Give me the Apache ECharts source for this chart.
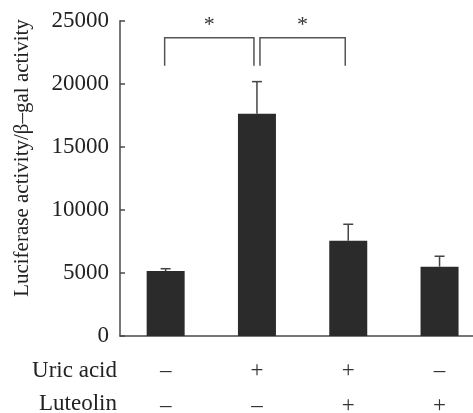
<!DOCTYPE html>
<html>
<head>
<meta charset="utf-8">
<script src="https://cdn.jsdelivr.net/npm/echarts@6/dist/echarts.min.js"></script>
<style>html,body{margin:0;padding:0;background:#fff}#c{width:473px;height:413px}</style>
</head>
<body>
<div id="c"></div>
<script>
// ---- data ----
const uricAcid = ['–', '+', '+', '–'];
const luteolin = ['–', '–', '+', '+'];
const categories = ['g1', 'g2', 'g3', 'g4'];
const means = [5150, 17630, 7560, 5500];
const errors = [185, 2540, 1300, 825];
const yTicks = [0, 5000, 10000, 15000, 20000, 25000];
const brackets = [[0, 1], [1, 2]];
const bracketTop = 23650;
const bracketLeg = 21420;
const starLevel = 24900;
const rowLabels = ['Uric acid', 'Luteolin'];
const yTitle = 'Luciferase activity/β–gal activity';

const FONT = 'Liberation Serif, Times New Roman, serif';
const AX = '#4a4a4a';

const chart = echarts.init(document.getElementById('c'), null, {renderer: 'canvas'});
chart.setOption({
  animation: false,
  backgroundColor: '#fff',
  grid: {left: 120, width: 365.2, top: 20.7, bottom: 77, containLabel: false, outerBoundsMode: 'none'},
  xAxis: {
    type: 'category',
    data: categories,
    axisLine: {lineStyle: {color: AX, width: 1.5}},
    axisTick: {inside: true, length: 8, alignWithLabel: false, lineStyle: {color: AX, width: 1.5}},
    axisLabel: {
      margin: 17,
      fontFamily: FONT, fontSize: 23, color: '#333', lineHeight: 35,
      formatter: (v, i) => uricAcid[i] + '\n' + luteolin[i]
    }
  },
  yAxis: {
    type: 'value',
    min: yTicks[0], max: yTicks[yTicks.length - 1], interval: 5000,
    axisLine: {show: true, lineStyle: {color: AX, width: 1.5}},
    axisTick: {show: true, inside: true, length: 5, lineStyle: {color: AX, width: 1.5}},
    splitLine: {show: false},
    axisLabel: {margin: 11, fontFamily: FONT, fontSize: 23, color: '#222', formatter: v => String(v)}
  },
  graphic: [
    {type: 'text', x: 22, y: 158, rotation: Math.PI / 2,
     style: {text: yTitle, font: '21px ' + FONT, fill: '#222', textAlign: 'center', textVerticalAlign: 'middle'}},
    {type: 'text', x: 117, y: 382,
     style: {text: rowLabels[0], font: '23px ' + FONT, fill: '#222', textAlign: 'right', textVerticalAlign: 'bottom'}},
    {type: 'text', x: 117, y: 415,
     style: {text: rowLabels[1], font: '23px ' + FONT, fill: '#222', textAlign: 'right', textVerticalAlign: 'bottom'}}
  ],
  series: [
    {
      type: 'bar', data: means, barWidth: 38,
      itemStyle: {color: '#2b2b2b'}, z: 2
    },
    {
      type: 'custom', z: 3,
      data: means.map((m, i) => [i, m, errors[i]]),
      renderItem: (params, api) => {
        const i = api.value(0), m = api.value(1), e = api.value(2);
        const base = api.coord([i, m]);
        const top = api.coord([i, m + e]);
        const st = {stroke: '#444', lineWidth: 1.5};
        return {type: 'group', children: [
          {type: 'line', shape: {x1: base[0], y1: base[1], x2: top[0], y2: top[1]}, style: st},
          {type: 'line', shape: {x1: top[0] - 5, y1: top[1], x2: top[0] + 5, y2: top[1]}, style: st}
        ]};
      }
    },
    {
      type: 'custom', z: 3,
      data: brackets,
      encode: {x: 0},
      renderItem: (params, api) => {
        const a = api.value(0), b = api.value(1);
        const shared = brackets.some(br => br[1] === a);
        const pa = api.coord([a, bracketTop]);
        const pb = api.coord([b, bracketTop]);
        const leg = api.coord([a, bracketLeg])[1];
        const star = api.coord([a, starLevel])[1];
        const x1 = pa[0] + (shared ? 3 : -1);
        const x2 = pb[0] - 3;
        const y = pa[1];
        const st = {stroke: '#555', lineWidth: 1.5, fill: null};
        return {type: 'group', children: [
          {type: 'polyline', shape: {points: [[x1, leg], [x1, y], [x2, y], [x2, leg]]}, style: st},
          {type: 'text', x: (x1 + x2) / 2, y: star + 3,
           style: {text: '*', font: '22px ' + FONT, fill: '#333', textAlign: 'center', textVerticalAlign: 'middle'}}
        ]};
      }
    }
  ]
});
</script>
</body>
</html>
